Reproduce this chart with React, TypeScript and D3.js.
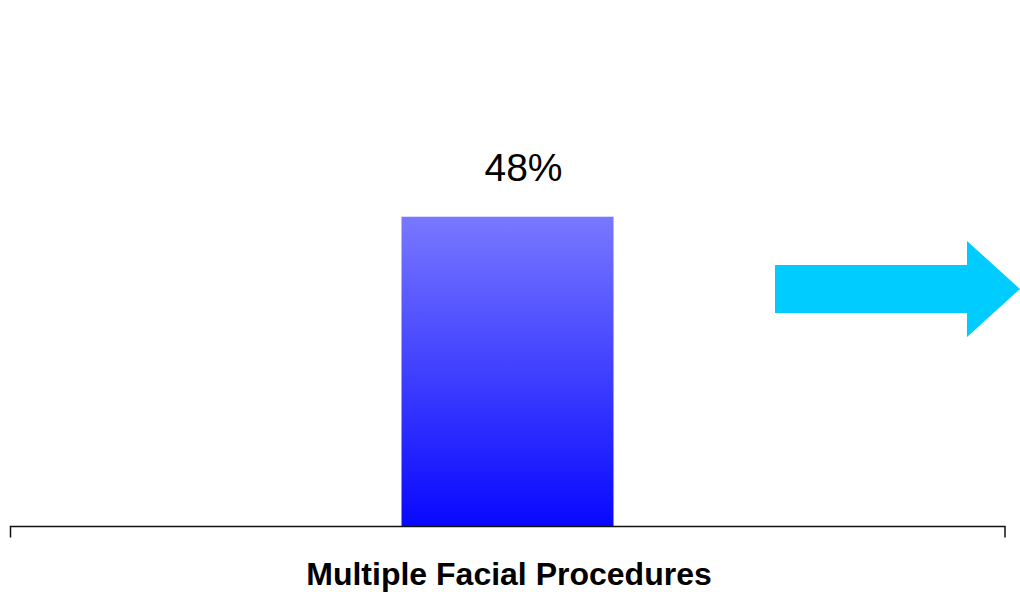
import React from "react";
import * as d3 from "d3";

const categories = ["Multiple Facial Procedures"];
const values = [0.48];
const valueLabels = ["48%"];

const W = 1020;
const H = 592;

export default function App() {
  const x = d3.scaleBand<string>().domain(categories).range([10, 1005]).padding(0.6487);
  const y = d3.scaleLinear().domain([0, 0.6]).range([526.5, 139.3]);
  const axisY = y(0);

  return (
    <svg
      width={W}
      height={H}
      style={{ position: "absolute", left: 0, top: 0, display: "block", background: "#fff" }}
      fontFamily="Liberation Sans, Arial, sans-serif"
    >
      <defs>
        <linearGradient id="barGrad" x1="0" y1="0" x2="0" y2="1">
          <stop offset="0%" stopColor="#7878ff" />
          <stop offset="100%" stopColor="#0808ff" />
        </linearGradient>
      </defs>
      {categories.map((c, i) => {
        const bx = x(c)!;
        const bw = x.bandwidth();
        const by = y(values[i]);
        return (
          <g key={c}>
            <rect x={bx} y={by} width={bw} height={axisY - by} fill="url(#barGrad)" />
            <text x={bx + bw / 2 + 16} y={by - 36} textAnchor="middle" fontSize={39} fill="#000">
              {valueLabels[i]}
            </text>
            <text x={bx + bw / 2 + 1.5} y={585} textAnchor="middle" fontSize={32} fontWeight="bold" fill="#000">
              {c}
            </text>
          </g>
        );
      })}
      {/* axis */}
      <path
        d={`M${x.range()[0] + 0.5},${axisY + 11}V${axisY}H${x.range()[1]}V${axisY + 11}`}
        fill="none"
        stroke="#111"
        strokeWidth={1.5}
      />
      {/* arrow */}
      <polygon points="775,265 967,265 967,241 1020,289 967,337 967,313 775,313" fill="#00ccff" />
    </svg>
  );
}
